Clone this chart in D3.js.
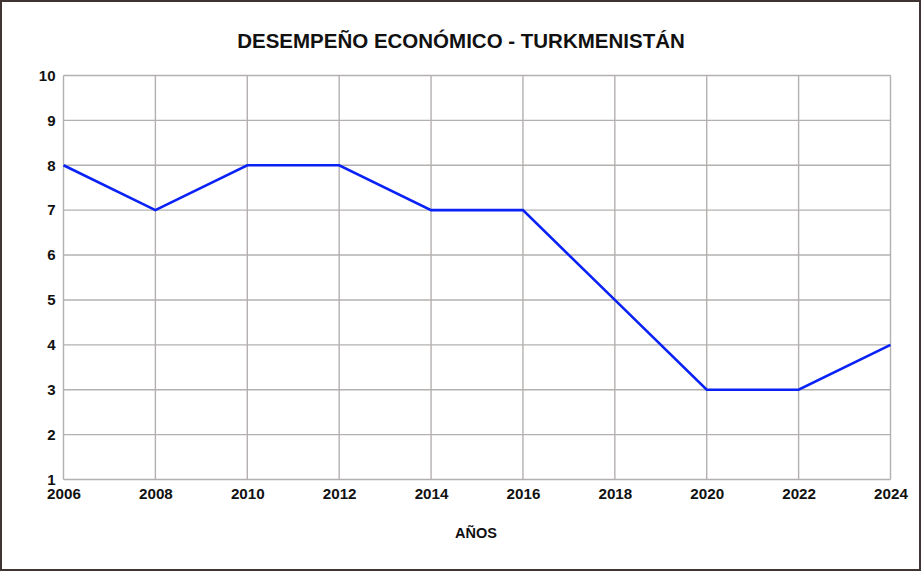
<!DOCTYPE html>
<html><head><meta charset="utf-8">
<script src="https://cdn.jsdelivr.net/npm/d3@7"></script>
<style>html,body{margin:0;padding:0;background:#fff;}svg{display:block;}</style>
</head><body>
<svg id="c" width="921" height="571"></svg>
<script>
const years = [2006, 2008, 2010, 2012, 2014, 2016, 2018, 2020, 2022, 2024];
const values = [8, 7, 8, 8, 7, 7, 5, 3, 3, 4];
const yTicks = [1, 2, 3, 4, 5, 6, 7, 8, 9, 10];
const title = "DESEMPEÑO ECONÓMICO - TURKMENISTÁN";
const xTitle = "AÑOS";

const W = 921, H = 571;
const m = {left: 63.5, right: 890.5, top: 75.5, bottom: 479.5};
const svg = d3.select("#c");
const font = "Arial, 'Liberation Sans', sans-serif";

svg.append("rect").attr("x", 1).attr("y", 1).attr("width", W - 2).attr("height", H - 2)
  .attr("fill", "#fff").attr("stroke", "#3f3333").attr("stroke-width", 2);

const x = d3.scaleLinear().domain([2006, 2024]).range([m.left, m.right]);
const y = d3.scaleLinear().domain([1, 10]).range([m.bottom, m.top]);

const grid = svg.append("g");
grid.selectAll(".h").data(yTicks).join("line")
  .attr("x1", m.left).attr("x2", m.right)
  .attr("y1", d => y(d)).attr("y2", d => y(d))
  .attr("stroke", "#b5b0b0").attr("stroke-width", 1.4);
grid.selectAll(".v").data(years).join("line")
  .attr("y1", m.top).attr("y2", m.bottom)
  .attr("x1", d => x(d)).attr("x2", d => x(d))
  .attr("stroke", "#b5b0b0").attr("stroke-width", 1.4);

const yAxis = svg.append("g").attr("transform", `translate(${m.left},0)`)
  .call(d3.axisLeft(y).tickValues(yTicks).tickSize(0).tickPadding(8).tickFormat(d3.format("d")));
yAxis.select(".domain").remove();
yAxis.selectAll("text").attr("font-family", font).attr("font-size", 15)
  .attr("font-weight", "bold").attr("fill", "#111");

const xAxis = svg.append("g").attr("transform", `translate(0,${m.bottom})`)
  .call(d3.axisBottom(x).tickValues(years).tickSize(0).tickPadding(9).tickFormat(d3.format("d")));
xAxis.select(".domain").remove();
xAxis.selectAll("text").attr("font-family", font).attr("font-size", 15.2)
  .attr("font-weight", "bold").attr("fill", "#111");

const line = d3.line().x((d, i) => x(years[i])).y(d => y(d));
svg.append("path").datum(values).attr("d", line)
  .attr("fill", "none").attr("stroke", "#0a22f5").attr("stroke-width", 2.6)
  .attr("stroke-linejoin", "miter");

svg.append("text").attr("x", 461).attr("y", 47.5).attr("text-anchor", "middle")
  .attr("font-family", font).attr("font-size", 20.5).attr("font-weight", "bold")
  .attr("fill", "#111").text(title);

svg.append("text").attr("x", 476).attr("y", 537.5).attr("text-anchor", "middle")
  .attr("font-family", font).attr("font-size", 14.5).attr("font-weight", "bold")
  .attr("fill", "#111").text(xTitle);
</script>
</body></html>
